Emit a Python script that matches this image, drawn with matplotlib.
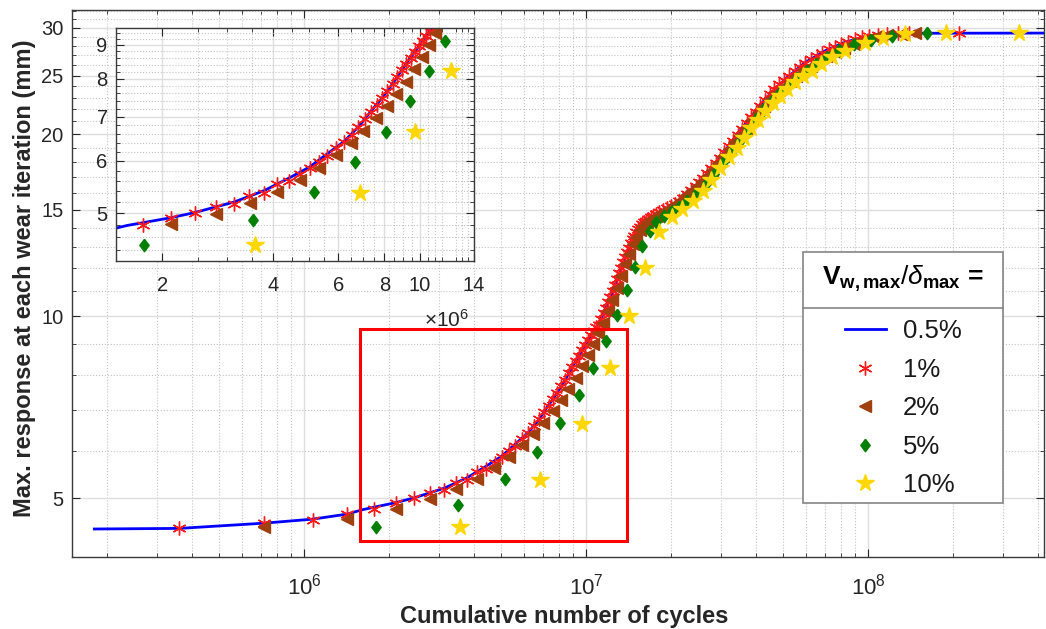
import numpy as np
import matplotlib.pyplot as plt
from matplotlib.patches import Rectangle
from matplotlib.lines import Line2D
from matplotlib.ticker import NullFormatter

plt.rcParams['font.family'] = ['Liberation Sans', 'DejaVu Sans']
plt.rcParams['mathtext.fontset'] = 'custom'
plt.rcParams['mathtext.rm'] = 'Liberation Sans'
plt.rcParams['mathtext.it'] = 'Liberation Sans:italic'
plt.rcParams['mathtext.bf'] = 'Liberation Sans:bold'

# Cumulative cycles (millions) and max. response (mm).
cyc_05 = [0.18, 0.36, 0.72, 1.07, 1.42, 1.61, 2.11, 2.45, 3.14, 3.78, 4.41, 5.03,
          5.60, 6.22, 6.80, 7.35, 7.92, 8.44, 8.95, 9.46, 9.98, 10.5, 11.0, 11.5,
          12.1, 12.9, 13.8, 14.8, 15.6, 16.7, 18.1, 20.1, 22.6, 25.1, 27.9, 31.2,
          36.8, 43.2, 50.9, 59.9, 70.5, 83.0, 98.5, 116, 151, 420]
resp_05 = [4.45, 4.46, 4.55, 4.62, 4.71, 4.79, 4.92, 5.01, 5.20, 5.41, 5.65, 5.88,
           6.15, 6.42, 6.76, 7.13, 7.50, 7.87, 8.27, 8.64, 9.00, 9.38, 9.68, 10.12,
           10.66, 11.55, 12.58, 13.52, 14.15, 14.52, 14.85, 15.26, 15.9, 16.63, 17.6, 18.84,
           20.85, 22.9, 24.7, 26.3, 27.5, 28.4, 29.05, 29.27, 29.38, 29.4]

cyc_1 = [0.36, 0.72, 1.07, 1.42, 1.77, 2.11, 2.45, 2.80, 3.14, 3.45, 3.78, 4.09,
         4.41, 4.73, 5.03, 5.31, 5.60, 5.91, 6.22, 6.52, 6.80, 7.09, 7.35, 7.62,
         7.90, 8.16, 8.42, 8.68, 8.93, 9.18, 9.43, 9.68, 9.92, 10.16, 10.40, 10.63,
         10.86, 11.08, 11.3, 11.52, 11.74, 11.96, 12.18, 12.4, 12.62, 12.84, 13.06, 13.28,
         13.5, 13.72, 13.94, 14.16, 14.38, 14.6, 14.82, 15.04, 15.26, 15.5, 15.75, 16.0,
         16.3, 16.6, 16.9, 17.2, 17.6, 18.1, 18.7, 19.3, 19.9, 20.6, 21.3, 22.0,
         22.8, 23.6, 24.4, 25.2, 26.0, 26.9, 27.8, 28.8, 29.8, 30.9, 32.0, 33.2,
         34.4, 35.7, 37.0, 38.4, 39.9, 41.4, 43.0, 44.7, 46.5, 48.4, 50.4, 52.5,
         54.8, 57.2, 59.8, 62.6, 65.6, 68.8, 72.3, 76.0, 80.0, 84.5, 89.5, 95.0,
         101, 108, 117, 128, 140, 210]
resp_1 = [4.46, 4.56, 4.60, 4.71, 4.80, 4.91, 5.00, 5.10, 5.17, 5.31, 5.37, 5.53,
          5.59, 5.73, 5.85, 5.98, 6.11, 6.27, 6.42, 6.58, 6.76, 6.94, 7.12, 7.30,
          7.48, 7.66, 7.85, 8.05, 8.24, 8.43, 8.61, 8.79, 8.96, 9.13, 9.30, 9.46,
          9.62, 9.68, 9.90, 10.12, 10.34, 10.56, 10.78, 11.02, 11.26, 11.52, 11.78, 12.02,
          12.28, 12.52, 12.76, 12.98, 13.2, 13.4, 13.58, 13.76, 13.92, 14.06, 14.2, 14.3,
          14.4, 14.5, 14.58, 14.66, 14.75, 14.85, 14.97, 15.08, 15.2, 15.36, 15.53, 15.72,
          15.94, 16.17, 16.42, 16.67, 16.95, 17.25, 17.57, 17.92, 18.28, 18.68, 19.1, 19.52,
          19.95, 20.4, 20.85, 21.32, 21.8, 22.3, 22.8, 23.28, 23.75, 24.2, 24.6, 25.0,
          25.42, 25.85, 26.25, 26.62, 26.97, 27.3, 27.62, 27.92, 28.2, 28.47, 28.72, 28.93,
          29.1, 29.22, 29.3, 29.36, 29.4, 29.4]

cyc_2 = [0.717, 1.42, 2.11, 2.80, 3.46, 4.09, 4.72, 5.32, 5.91, 6.49, 7.02, 7.60,
         8.13, 8.63, 9.16, 9.65, 10.1, 10.55, 11.0, 11.45, 11.9, 12.35, 12.8, 13.25,
         13.7, 14.15, 14.6, 15.05, 15.5, 15.95, 16.45, 17.0, 17.6, 18.3, 19.0, 19.8,
         20.7, 21.6, 22.6, 23.6, 24.6, 25.7, 26.8, 28.0, 29.3, 30.6, 32.0, 33.5,
         35.1, 36.8, 38.6, 40.5, 42.6, 44.8, 47.2, 49.8, 52.6, 55.6, 58.9, 62.5,
         66.5, 71.0, 76.0, 82.0, 89.0, 97.0, 106, 117, 131, 146]
resp_2 = [4.48, 4.62, 4.81, 4.99, 5.18, 5.39, 5.61, 5.85, 6.13, 6.38, 6.66, 6.97,
          7.27, 7.58, 7.91, 8.27, 8.62, 9.00, 9.38, 9.75, 10.2, 10.65, 11.15, 11.68,
          12.2, 12.7, 13.15, 13.55, 13.88, 14.12, 14.32, 14.5, 14.65, 14.8, 14.95, 15.12,
          15.35, 15.58, 15.85, 16.1, 16.4, 16.72, 17.08, 17.48, 17.92, 18.38, 18.88, 19.4,
          19.95, 20.5, 21.08, 21.65, 22.25, 22.85, 23.42, 23.98, 24.5, 25.0, 25.5, 25.98,
          26.45, 26.9, 27.35, 27.8, 28.25, 28.65, 28.98, 29.2, 29.32, 29.4]

cyc_5 = [1.79, 3.52, 5.15, 6.68, 8.10, 9.40, 10.6, 11.7, 12.8, 13.9, 14.9, 15.8,
         16.8, 17.7, 18.9, 20.2, 21.3, 22.8, 24.4, 26.5, 28.3, 30.7, 32.9, 35.0,
         37.4, 39.9, 42.6, 45.4, 48.5, 52.2, 56.1, 60.4, 65.5, 71.6, 79.0, 89.2,
         102, 121, 161]
resp_5 = [4.48, 4.88, 5.38, 5.97, 6.65, 7.41, 8.22, 9.12, 10.04, 11.06, 12.07, 13.07,
          13.83, 14.33, 14.67, 14.95, 15.18, 15.52, 15.91, 16.53, 17.16, 18.05, 18.74, 19.49,
          20.31, 21.17, 21.98, 22.74, 23.48, 24.15, 24.80, 25.46, 26.15, 26.84, 27.56, 28.18,
          28.67, 29.09, 29.4]

cyc_10 = [3.57, 6.87, 9.66, 12.1, 14.2, 16.2, 18.1, 20.1, 21.9, 23.9, 25.9, 27.8,
          29.9, 32.0, 34.2, 36.2, 38.5, 40.6, 43.2, 45.8, 48.8, 51.4, 55.1, 58.9,
          63.0, 68.1, 74.2, 82.7, 97.3, 113, 135, 188, 342]
resp_10 = [4.48, 5.37, 6.63, 8.22, 10.0, 12.0, 13.79, 14.59, 15.04, 15.52, 16.14, 16.81,
           17.56, 18.33, 18.98, 19.71, 20.46, 21.11, 21.84, 22.57, 23.15, 23.79, 24.40, 24.96,
           25.49, 26.15, 26.81, 27.49, 28.29, 28.9, 29.3, 29.4, 29.4]

labels = ['0.5%', '1%', '2%', '5%', '10%']
series = [(cyc_05, resp_05), (cyc_1, resp_1), (cyc_2, resp_2), (cyc_5, resp_5), (cyc_10, resp_10)]
diamond = [(0, 1), (0.75, 0), (0, -1), (-0.75, 0), (0, 1)]
styles = [
    dict(color='#0000ff', lw=2, ls='-'),
    dict(ls='none', marker=(6, 2, 0), ms=10, mec='#ff1a1a', mew=1.0),
    dict(ls='none', marker='<', ms=8.5, color='#a0400f'),
    dict(ls='none', marker=diamond, ms=9, color='#008000'),
    dict(ls='none', marker='*', ms=13, color='#ffd700', mec='#ffd700'),
]

gray = '#262626'
fig = plt.figure(figsize=(10.46, 6.29), dpi=100)
ax = fig.add_axes([72 / 1046, 1 - 557 / 629, 972 / 1046, 547 / 629])


def style_axes(a):
    for s in a.spines.values():
        s.set_color('#3a3a3a')
        s.set_linewidth(1.0)
    a.tick_params(which='both', direction='in', top=True, right=True,
                  colors=gray, labelcolor=gray)
    a.tick_params(which='major', length=6, width=0.8)
    a.tick_params(which='minor', length=3, width=0.6)
    a.grid(True, which='major', color='#dedede', lw=1.0, ls='-')
    a.grid(True, which='minor', color='#c4c4c4', lw=0.8, ls=':')
    a.set_axisbelow(True)


handles = []
for (x, y), st in zip(series, styles):
    h, = ax.plot(np.array(x) * 1e6, y, **st)
    handles.append(h)

ax.set_xscale('log')
ax.set_yscale('log')
ax.set_xlim(1.5e5, 4.2e8)
ax.set_ylim(4.1, 32.1)
ax.set_yticks([5, 10, 15, 20, 25, 30], labels=['5', '10', '15', '20', '25', '30'])
ax.set_yticks([v for v in range(4, 33) if v % 5], minor=True)
ax.yaxis.set_minor_formatter(NullFormatter())
ax.xaxis.set_minor_formatter(NullFormatter())
style_axes(ax)
ax.tick_params(axis='y', labelsize=14.5, pad=6)
ax.tick_params(axis='x', labelsize=16, pad=12)

ax.set_xlabel('Cumulative number of cycles', fontsize=17, fontweight='bold', color=gray)
ax.set_ylabel('Max. response at each wear iteration (mm)', fontsize=17, fontweight='bold', color=gray)
ax.xaxis.set_label_coords(0.506, -0.088)
ax.yaxis.set_label_coords(-0.037, 0.51)

# zoom box
box_x = (1.57e6, 1.39e7)
box_y = (4.25, 9.52)
ax.add_patch(Rectangle((box_x[0], box_y[0]), box_x[1] - box_x[0], box_y[1] - box_y[0],
                       fill=False, ec='#ff0000', lw=2.2, zorder=3))

# inset
ins = fig.add_axes([116 / 1046, 1 - 261 / 629, 358 / 1046, 233 / 629])
ins.set_facecolor('white')
for (x, y), st in zip(series, styles):
    ins.plot(np.array(x) * 1e6, y, **st)
ins.set_xscale('log')
ins.set_yscale('log')
ins.set_xlim(1.61e6, 1.4e7)
ins.set_ylim(4.23, 9.55)
ins.set_xticks([2e6, 4e6, 6e6, 8e6, 10e6, 14e6], labels=['2', '4', '6', '8', '10', '14'])
ins.set_xticks([v * 1e6 for v in np.arange(1.5, 14.01, 0.5) if v % 2 and v != 14], minor=True)
ins.set_yticks([5, 6, 7, 8, 9], labels=['5', '6', '7', '8', '9'])
ins.set_yticks([v for v in np.arange(4.4, 9.55, 0.2) if abs(v - round(v)) > 0.01], minor=True)
ins.xaxis.set_minor_formatter(NullFormatter())
ins.yaxis.set_minor_formatter(NullFormatter())
style_axes(ins)
ins.tick_params(axis='both', labelsize=14.5)
ins.tick_params(axis='x', pad=11)
ins.tick_params(axis='y', pad=6)
fig.text(447 / 1046, 1 - 320 / 629, r'$\times10^{6}$', fontsize=15, color=gray,
         ha='center', va='center')

# legend with boxed title
fig.add_artist(Rectangle((803 / 1046, 1 - 503 / 629), 200 / 1046, 251 / 629,
                         transform=fig.transFigure, fc='white', ec='#858585', lw=1.2, zorder=4))
fig.add_artist(Line2D([803 / 1046, 1003 / 1046], [1 - 308 / 629, 1 - 308 / 629],
                      transform=fig.transFigure, color='#858585', lw=1.2, zorder=5))
leg = fig.legend(handles, labels, loc='upper center', bbox_to_anchor=(903 / 1046, 1 - 264 / 629),
                 bbox_transform=fig.transFigure, frameon=False, fontsize=18.5, numpoints=1,
                 handlelength=1.6, handletextpad=0.66, labelspacing=0.56, borderpad=0,
                 borderaxespad=0,
                 title=r'$\mathbf{V_{w,max}}/\delta_{\mathbf{max}}$ =',
                 title_fontproperties={'size': 19, 'weight': 'bold'})
leg.set_zorder(6)
leg._legend_box.sep = 18
for t in leg.get_texts():
    t.set_color('#1a1a1a')

fig.savefig('out.png', dpi=100)
